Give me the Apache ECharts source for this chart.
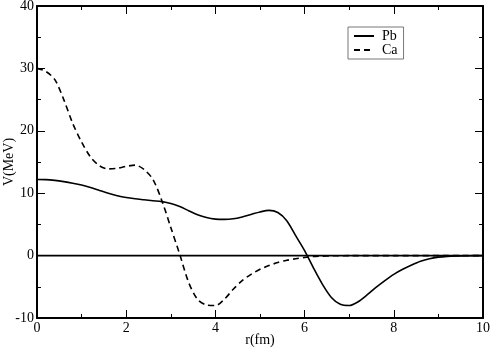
<!DOCTYPE html>
<html>
<head>
<meta charset="utf-8">
<script src="https://cdn.jsdelivr.net/npm/echarts@6/dist/echarts.min.js"></script>
<style>
  html, body { margin: 0; padding: 0; background: #fff; }
  #chart { width: 491px; height: 348px; }
</style>
</head>
<body>
<div id="chart"></div>
<script>
  // r (fm) and V (MeV)
  const pbR = [0, 0.2, 0.4, 0.6, 0.8, 1.0, 1.2, 1.4, 1.6, 1.8, 2.0, 2.2, 2.4, 2.6, 2.8, 3.0, 3.2, 3.4, 3.6, 3.8, 4.0, 4.2, 4.4, 4.6, 4.8, 5.0, 5.2, 5.4, 5.6, 5.8, 6.0, 6.2, 6.4, 6.6, 6.8, 7.0, 7.2, 7.4, 7.6, 7.8, 8.0, 8.2, 8.4, 8.6, 8.8, 9.0, 9.2, 9.4, 9.6, 9.8, 10]
  const pbV = [12.2, 12.18, 12.05, 11.85, 11.6, 11.3, 10.9, 10.45, 10.0, 9.6, 9.3, 9.1, 8.95, 8.8, 8.65, 8.35, 7.85, 7.2, 6.55, 6.1, 5.85, 5.8, 5.9, 6.2, 6.6, 7.0, 7.25, 6.9, 5.6, 3.2, 0.8, -2.0, -4.6, -6.7, -7.8, -8.0, -7.4, -6.3, -5.1, -4.0, -3.0, -2.2, -1.5, -0.9, -0.5, -0.25, -0.12, -0.06, -0.03, -0.01, 0]
  const caR = [0, 0.2, 0.4, 0.6, 0.8, 1.0, 1.2, 1.4, 1.6, 1.8, 2.0, 2.2, 2.4, 2.6, 2.8, 3.0, 3.2, 3.4, 3.6, 3.8, 4.0, 4.2, 4.4, 4.6, 4.8, 5.0, 5.2, 5.4, 5.6, 5.8, 6.0, 6.2, 6.4, 6.6, 6.8, 7.0, 8.0, 10]
  const caV = [30.0, 29.5, 28.2, 25.0, 21.2, 18.2, 15.8, 14.4, 13.9, 14.0, 14.3, 14.5, 13.8, 12.2, 8.8, 4.5, 0.2, -4.3, -7.0, -7.9, -8.0, -7.0, -5.4, -4.0, -3.0, -2.2, -1.6, -1.1, -0.75, -0.5, -0.3, -0.15, -0.08, -0.04, -0.02, 0, 0, 0]
  const zeroR = [0, 10]
  const zeroV = [0, 0]

  const ink = '#000'
  const font = 'Liberation Serif'

  const zip = (a, b) => a.map((v, i) => [v, b[i]])

  const chart = echarts.init(document.getElementById('chart'))

  const baseX = {
    type: 'value', min: 0, max: 10, interval: 2,
    axisLine: { show: true, onZero: false, lineStyle: { color: ink, width: 2 } },
    axisTick: { show: true, inside: true, length: 8, lineStyle: { color: ink, width: 1 } },
    minorTick: { show: true, splitNumber: 2, length: 4, lineStyle: { color: ink, width: 1 } },
    splitLine: { show: false }
  }
  const baseY = {
    type: 'value', min: -10, max: 40, interval: 10,
    axisLine: { show: true, onZero: false, lineStyle: { color: ink, width: 2 } },
    axisTick: { show: true, inside: true, length: 8, lineStyle: { color: ink, width: 1 } },
    minorTick: { show: true, splitNumber: 2, length: 4, lineStyle: { color: ink, width: 1 } },
    splitLine: { show: false }
  }

  chart.setOption({
    animation: false,
    textStyle: { fontFamily: font },
    grid: { left: 37, right: 8, top: 6, bottom: 30, outerBoundsMode: 'none', containLabel: false },
    legend: {
      orient: 'vertical',
      left: 348, top: 27,
      padding: [2, 6, 2, 5],
      itemGap: 0,
      itemWidth: 20, itemHeight: 12,
      borderColor: '#777', borderWidth: 1,
      itemStyle: { color: 'transparent', borderWidth: 0 },
      textStyle: { fontFamily: font, fontSize: 14, color: ink, padding: [0, 0, 0, 3] },
      data: ['Pb', 'Ca']
    },
    xAxis: [
      Object.assign({}, baseX, {
        name: 'r(fm)', nameLocation: 'middle', nameGap: 15, nameMoveOverlap: false,
        nameTextStyle: { fontFamily: font, fontSize: 14, color: ink },
        axisLabel: { color: ink, fontFamily: font, fontSize: 14, margin: 3 }
      }),
      Object.assign({}, baseX, { position: 'top', axisLabel: { show: false } })
    ],
    yAxis: [
      Object.assign({}, baseY, {
        name: 'V(MeV)', nameLocation: 'middle', nameGap: 21, nameMoveOverlap: false,
        nameTextStyle: { fontFamily: font, fontSize: 14, color: ink },
        axisLabel: { color: ink, fontFamily: font, fontSize: 14, margin: 3 }
      }),
      Object.assign({}, baseY, { position: 'right', axisLabel: { show: false } })
    ],
    series: [
      {
        name: 'Pb', type: 'line', smooth: 0.3, symbol: 'none',
        lineStyle: { color: ink, width: 1.6 }, itemStyle: { color: ink },
        data: zip(pbR, pbV)
      },
      {
        name: 'Ca', type: 'line', smooth: 0.3, symbol: 'none',
        lineStyle: { color: ink, width: 1.6, type: [6, 4] }, itemStyle: { color: ink },
        data: zip(caR, caV)
      },
      {
        name: 'zero', type: 'line', symbol: 'none', silent: true,
        lineStyle: { color: ink, width: 1.6 },
        data: zip(zeroR, zeroV)
      }
    ]
  })
</script>
</body>
</html>
